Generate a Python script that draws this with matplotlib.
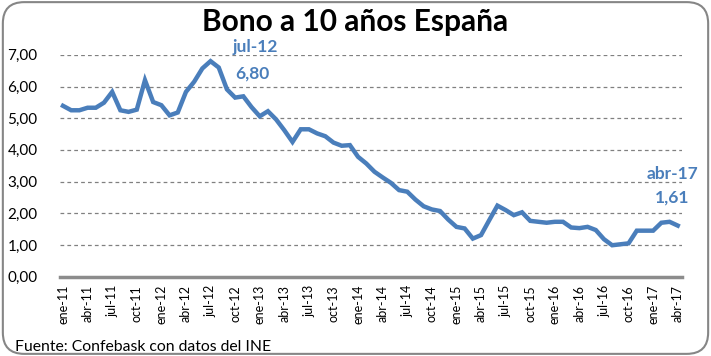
import matplotlib.pyplot as plt
from matplotlib.patches import FancyBboxPatch
import numpy as np

plt.rcParams['font.family'] = ['Lato', 'DejaVu Sans']

# monthly yields, ene-11 .. abr-17
months = ['ene', 'feb', 'mar', 'abr', 'may', 'jun', 'jul', 'ago', 'sep', 'oct', 'nov', 'dic']
years = ['11', '12', '13', '14', '15', '16', '17']
labels = [m + '-' + y for y in years for m in months][:76]

y2011 = [5.39, 5.25, 5.25, 5.33, 5.33, 5.49, 5.83, 5.25, 5.20, 5.27, 6.20, 5.51]
y2012 = [5.41, 5.09, 5.18, 5.83, 6.15, 6.57, 6.80, 6.60, 5.91, 5.65, 5.69, 5.35]
y2013 = [5.06, 5.22, 4.96, 4.62, 4.25, 4.65, 4.65, 4.52, 4.43, 4.23, 4.13, 4.15]
y2014 = [3.78, 3.57, 3.31, 3.13, 2.96, 2.73, 2.68, 2.43, 2.22, 2.12, 2.07, 1.80]
y2015 = [1.57, 1.52, 1.20, 1.31, 1.78, 2.24, 2.10, 1.94, 2.03, 1.76, 1.73, 1.70]
y2016 = [1.73, 1.73, 1.55, 1.53, 1.57, 1.47, 1.18, 0.99, 1.02, 1.05, 1.45, 1.45]
y2017 = [1.45, 1.70, 1.73, 1.61]
values = y2011 + y2012 + y2013 + y2014 + y2015 + y2016 + y2017

blue = '#4A7EBB'

fig = plt.figure(figsize=(7.11, 3.56), dpi=100)
ax = fig.add_axes([0.084, 0.223, 0.875, 0.623])

x = np.arange(len(values))
ax.plot(x, values, color=blue, lw=3.2, solid_joinstyle='miter')

ax.set_ylim(0, 7)
ax.set_xlim(-0.4, 75.5)
ax.set_yticks(range(8))
ax.set_yticklabels(['%d,00' % v for v in range(8)], fontsize=11)
ax.set_xticks(x[::3])
ax.set_xticklabels(labels[::3], rotation=90, fontsize=9)
ax.tick_params(axis='both', length=0)
ax.tick_params(axis='y', pad=16)
ax.tick_params(axis='x', pad=6)
for v in range(1, 8):
    ax.axhline(v, color='#808080', lw=0.9, ls=(0, (3, 2.5)), zorder=0)
for s in ['top', 'right', 'left']:
    ax.spines[s].set_visible(False)
ax.spines['bottom'].set_color('#8c8c8c')
ax.spines['bottom'].set_linewidth(2.5)

# highlighted values
imax = int(np.argmax(values))
ilast = len(values) - 1
ax.annotate(labels[imax], xy=(imax, values[imax]), xytext=(32, 10), textcoords='offset points',
            ha='center', va='center', fontsize=12.5, fontweight='bold', color=blue, annotation_clip=False)
ax.annotate(('%.2f' % values[imax]).replace('.', ','), xy=(imax, values[imax]), xytext=(30, -9),
            textcoords='offset points', ha='center', va='center', fontsize=12.5, fontweight='bold', color=blue)
ax.annotate(labels[ilast], xy=(ilast, values[ilast]), xytext=(-4, 37), textcoords='offset points',
            ha='center', va='center', fontsize=12.5, fontweight='bold', color=blue)
ax.annotate(('%.2f' % values[ilast]).replace('.', ','), xy=(ilast, values[ilast]), xytext=(-4, 20.5),
            textcoords='offset points', ha='center', va='center', fontsize=12.5, fontweight='bold', color=blue)

fig.text(0.5, 0.938, 'Bono a 10 años España', ha='center', va='center', fontsize=21.5, fontweight='bold')
fig.text(0.021, 0.025, 'Fuente: Confebask con datos del INE', ha='left', va='center', fontsize=11.3)

border = FancyBboxPatch((0.004, 0.006), 0.992, 0.988, boxstyle='round,pad=0,rounding_size=0.03',
                        transform=fig.transFigure, fill=False, ec='#868686', lw=1.5, mutation_aspect=2)
fig.patches.append(border)

fig.savefig('out.png', dpi=100)
